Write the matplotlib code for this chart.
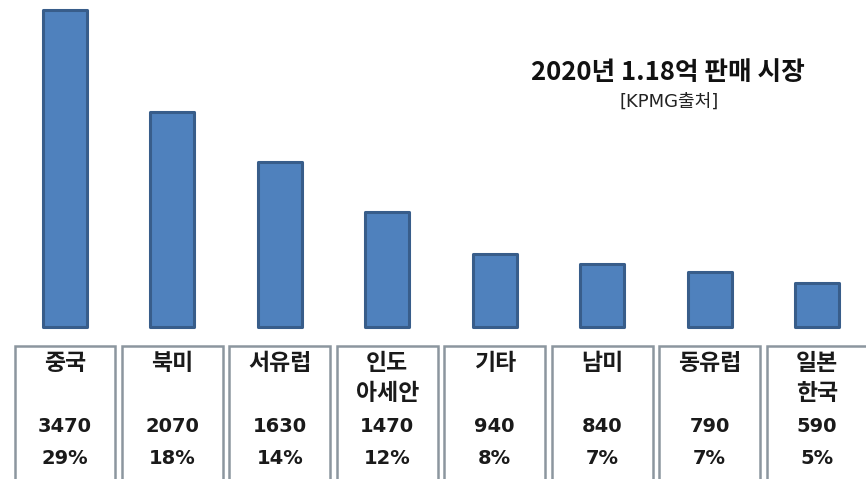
import matplotlib
matplotlib.use("Agg")
import matplotlib.pyplot as plt
from matplotlib.patches import Rectangle

plt.rcParams['font.family'] = ['Noto Sans CJK KR', 'DejaVu Sans']

categories = ["중국", "북미", "서유럽", "인도\n아세안", "기타", "남미", "동유럽", "일본\n한국"]
sales = ["3470", "2070", "1630", "1470", "940", "840", "790", "590"]
shares = ["29%", "18%", "14%", "12%", "8%", "7%", "7%", "5%"]
# drawn bar heights as they appear in the picture (not proportional to sales)
bar_heights = [317, 215, 165, 115, 73, 63, 55, 44]
title = "2020년 1.18억 판매 시장"
source = "[KPMG출처]"

W, H = 866, 479
fig = plt.figure(figsize=(W / 100, H / 100), dpi=100)
ax = fig.add_axes([0, 0, 1, 1])
px = 107.43  # pixels per category unit
ax.set_xlim(-65 / px, (W - 65) / px)
ax.set_ylim(327 - H, 327)
ax.axis("off")

x = list(range(len(categories)))
ax.bar(x, bar_heights, width=0.41, color="#4F81BD", edgecolor="#385D8A",
       linewidth=2.2, joinstyle="round", zorder=2)

lat = ['DejaVu Sans', 'Noto Sans CJK KR']
box_w = 0.94
box_top = 327 - 346
for i, (c, s, p) in enumerate(zip(categories, sales, shares)):
    ax.add_patch(Rectangle((i - box_w / 2, 327 - 485), box_w, box_top - (327 - 485),
                           facecolor="white", edgecolor="#8C969F", linewidth=1.8, zorder=1))
    lines = c.split("\n")
    for j, ln in enumerate(lines):
        ax.text(i, 327 - (364 + 29 * j), ln, ha="center", va="center",
                fontsize=16.5, fontweight="bold", color="#1a1a1a")
    ax.text(i, 327 - 427, s, ha="center", va="center", fontsize=14,
            fontweight="bold", color="#1a1a1a", family=lat)
    ax.text(i, 327 - 458, p, ha="center", va="center", fontsize=14,
            fontweight="bold", color="#1a1a1a", family=lat)

fig.text(668 / W, 1 - 73 / H, title, ha="center", va="center", fontsize=18.5,
         fontweight="bold", color="#111111")
fig.text(669 / W, 1 - 102 / H, source, ha="center", va="center", fontsize=13,
         color="#222222", family=['DejaVu Sans', 'Noto Sans CJK KR'])

fig.savefig("out.png", dpi=100)
